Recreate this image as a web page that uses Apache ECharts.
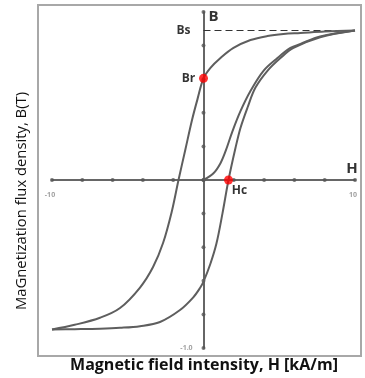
<!DOCTYPE html>
<html>
<head>
<meta charset="utf-8">
<script src="https://cdn.jsdelivr.net/npm/echarts@6/dist/echarts.min.js"></script>
<style>
  html, body { margin: 0; padding: 0; background: #fff; }
  #chart { width: 365px; height: 378px; }
</style>
</head>
<body>
<div id="chart"></div>
<script>
// Hysteresis loop, H in kA/m and B in T

// descending branch: from +saturation back to -saturation
const descH = [10, 8, 6.4, 5.28, 4.22, 3.1, 1.98, 1.12, 0.46, 0, -0.4, -0.75, -1.2, -1.65, -2.1, -2.67, -3.33, -4.19, -5.51, -6.83, -8.5, -10];
const descB = [0.89, 0.884, 0.875, 0.869, 0.857, 0.833, 0.786, 0.726, 0.667, 0.605, 0.48, 0.36, 0.18, 0, -0.19, -0.375, -0.518, -0.64, -0.762, -0.82, -0.862, -0.89];

// ascending branch: from -saturation up to +saturation
const ascH = [-10, -8.5, -6.83, -5.51, -4.19, -2.87, -1.55, -0.69, -0.23, 0, 0.45, 0.85, 1.25, 1.65, 2.11, 2.44, 2.9, 3.43, 4.22, 5.08, 5.94, 7.7, 10];
const ascB = [-0.89, -0.888, -0.885, -0.88, -0.87, -0.845, -0.774, -0.7, -0.643, -0.605, -0.5, -0.38, -0.2, 0, 0.19, 0.31, 0.43, 0.55, 0.65, 0.726, 0.786, 0.85, 0.89];

// initial magnetization curve from the demagnetized state
const initH = [0, 0.66, 1.12, 1.45, 1.91, 2.44, 3.1, 3.96, 4.88, 5.74, 6.4, 7.7, 10];
const initB = [0, 0.04, 0.1, 0.17, 0.29, 0.41, 0.53, 0.65, 0.726, 0.786, 0.81, 0.855, 0.89];

// saturation level, remanence and coercivity
const Bs = 0.89;
const Hsat = 10;
const Br = 0.605;
const Hc = 1.65;

// axis tick positions and the few tick labels that are printed
const hTicks = [-10, -8, -6, -4, -2, 0, 2, 4, 6, 8, 10];
const bTicks = [-1, -0.8, -0.6, -0.4, -0.2, 0, 0.2, 0.4, 0.6, 0.8, 1];
const hTickLabels = [[-10, '-10'], [10, '10']];
const bTickLabels = [[-1, '-1.0']];

const zip = (xs, ys) => xs.map((x, i) => [x, ys[i]]);

const curveStyle = { color: '#5e5e5e', width: 2 };
const labelFont = '"Open Sans", sans-serif';
const tickLabelStyle = { show: true, fontSize: 7, fontWeight: 'bold', color: '#8a8a8a', fontFamily: labelFont };

const chart = echarts.init(document.getElementById('chart'), null, { renderer: 'canvas' });

chart.setOption({
  animation: false,
  backgroundColor: '#fff',
  grid: { left: 52, right: 10, top: 12, bottom: 30, containLabel: false },
  xAxis: {
    type: 'value', min: -10, max: 10, interval: 2,
    axisLine: { onZero: true, lineStyle: { color: '#666', width: 2 } },
    axisTick: { show: false }, splitLine: { show: false }, axisLabel: { show: false }
  },
  yAxis: {
    type: 'value', min: -1, max: 1, interval: 0.2,
    axisLine: { onZero: true, lineStyle: { color: '#666', width: 2 } },
    axisTick: { show: false }, splitLine: { show: false }, axisLabel: { show: false }
  },
  series: [
    {
      name: 'ticksH', type: 'scatter', symbol: 'circle', symbolSize: 4,
      itemStyle: { color: '#555' }, silent: true,
      data: hTicks.map(h => [h, 0])
    },
    {
      name: 'ticksB', type: 'scatter', symbol: 'circle', symbolSize: 4,
      itemStyle: { color: '#555' }, silent: true,
      data: bTicks.map(b => [0, b])
    },
    {
      name: 'hTickLabels', type: 'scatter', symbolSize: 0, silent: true,
      data: hTickLabels.map(([h, t]) => ({ value: [h, 0], label: { formatter: t } })),
      label: Object.assign({ position: 'inside', offset: [-2, 15] }, tickLabelStyle)
    },
    {
      name: 'bTickLabels', type: 'scatter', symbolSize: 0, silent: true,
      data: bTickLabels.map(([b, t]) => ({ value: [0, b], label: { formatter: t } })),
      label: Object.assign({ position: 'inside', offset: [-17, 0] }, tickLabelStyle)
    },
    {
      name: 'saturation', type: 'line', showSymbol: false,
      lineStyle: { color: '#333', width: 1.2, type: [7, 4] },
      data: [[0, Bs], [Hsat, Bs]]
    },
    {
      name: 'descending', type: 'line', showSymbol: false, smooth: 0.35,
      lineStyle: curveStyle, data: zip(descH, descB)
    },
    {
      name: 'ascending', type: 'line', showSymbol: false, smooth: 0.35,
      lineStyle: curveStyle, data: zip(ascH, ascB)
    },
    {
      name: 'initial', type: 'line', showSymbol: false, smooth: 0.35,
      lineStyle: curveStyle, data: zip(initH, initB)
    },
    {
      name: 'Bs', type: 'scatter', symbolSize: 0,
      data: [{ value: [0, Bs], label: { formatter: 'Bs' } }],
      label: {
        show: true, position: 'inside', offset: [-20, 0],
        fontSize: 12, fontWeight: 'bold', color: '#000', fontFamily: labelFont
      }
    },
    {
      name: 'points', type: 'scatter', symbol: 'circle', symbolSize: 9,
      itemStyle: { color: '#f00' }, z: 5,
      data: [
        { value: [0, Br], label: { formatter: 'Br', offset: [-15, 0] } },
        { value: [Hc, 0], label: { formatter: 'Hc', offset: [11, 11] } }
      ],
      label: {
        show: true, position: 'inside',
        fontSize: 12, fontWeight: 'bold', color: '#000', fontFamily: labelFont
      }
    },
    {
      name: 'axisNames', type: 'scatter', symbolSize: 0,
      data: [
        { value: [0, 1], label: { formatter: 'B', offset: [10, 5] } },
        { value: [10, 0], label: { formatter: 'H', offset: [-3, -11] } }
      ],
      label: { show: true, position: 'inside', fontSize: 15, fontWeight: 'bold', color: '#000', fontFamily: labelFont }
    }
  ],
  graphic: [
    {
      type: 'rect', silent: true,
      shape: { x: 38, y: 5, width: 323, height: 351 },
      style: { fill: 'none', stroke: '#a8a8a8', lineWidth: 2 }
    },
    {
      type: 'text', x: 22, y: 201, rotation: Math.PI / 2,
      style: {
        text: 'MaGnetization flux density, B(T)',
        font: '14.8px "Open Sans", sans-serif', fill: '#111',
        align: 'center', verticalAlign: 'middle'
      }
    },
    {
      type: 'text', x: 204, y: 365,
      style: {
        text: 'Magnetic field intensity, H [kA/m]',
        font: 'bold 16px "Open Sans", sans-serif', fill: '#111',
        align: 'center', verticalAlign: 'middle'
      }
    }
  ]
});
</script>
</body>
</html>
